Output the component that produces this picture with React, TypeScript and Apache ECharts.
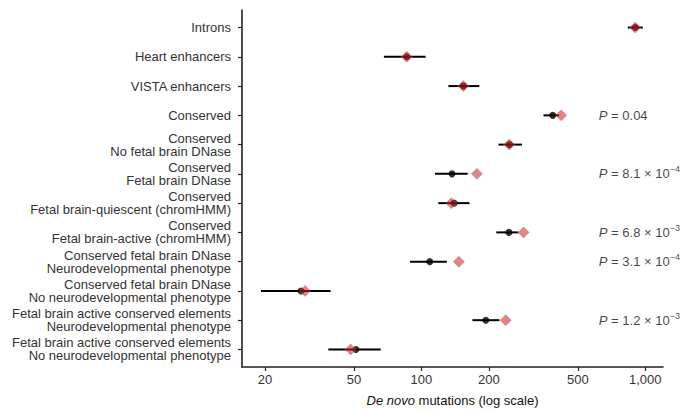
import React, { useEffect, useRef } from 'react';
import * as echarts from 'echarts';

const categories = [
  'Introns',
  'Heart enhancers',
  'VISTA enhancers',
  'Conserved',
  'Conserved\nNo fetal brain DNase',
  'Conserved\nFetal brain DNase',
  'Conserved\nFetal brain-quiescent (chromHMM)',
  'Conserved\nFetal brain-active (chromHMM)',
  'Conserved fetal brain DNase\nNeurodevelopmental phenotype',
  'Conserved fetal brain DNase\nNo neurodevelopmental phenotype',
  'Fetal brain active conserved elements\nNeurodevelopmental phenotype',
  'Fetal brain active conserved elements\nNo neurodevelopmental phenotype',
];

const observed = [902, 86, 154, 386, 247, 137, 140, 246, 109, 29, 194, 51];
const observedLow = [836, 68, 132, 351, 221, 115, 119, 216, 89, 19.2, 169, 38.4];
const observedHigh = [975, 104.5, 181.5, 412, 281, 161, 164, 271, 130, 39.3, 223, 65.8];
const expected = [902, 86, 154, 421, 247, 177, 136, 286, 147, 30.2, 238, 48.3];

const pRows = [3, 5, 7, 8, 10];
const pMantissa = ['0.04', '8.1', '6.8', '3.1', '1.2'];
const pExponent = ['', '−4', '−3', '−4', '−3'];
const pLabelX = 617;

const xTicks = [20, 50, 100, 200, 500, 1000];
const rowTicks = categories.map((_, i) => i);

const FONT = '"Liberation Sans", Arial, Helvetica, sans-serif';
const TXT = '#333333';

export default function App() {
  const ref = useRef<HTMLDivElement>(null);
  useEffect(() => {
    if (!ref.current) return;
    const chart = echarts.init(ref.current, undefined, { renderer: 'svg' });
    const errData = observed.map((_, i) => [observedLow[i], observedHigh[i], i]);
    const obsData = observed.map((v, i) => [v, i]);
    const expData = expected.map((v, i) => [v, i]);
    const pData = pRows.map((r, k) => ({
      value: [pLabelX, r],
      label: {
        formatter: pExponent[k]
          ? `{i|P}{n| = ${pMantissa[k]} × 10}{s|${pExponent[k]}}`
          : `{i|P}{n| = ${pMantissa[k]}}`,
      },
    }));
    chart.setOption({
      animation: false,
      textStyle: { fontFamily: FONT },
      grid: { left: 242, right: 20, top: 10, bottom: 42 },
      xAxis: {
        type: 'log',
        logBase: 10,
        position: 'bottom',
        min: 15.8,
        max: 1200,
        axisLine: { show: true, onZero: false, lineStyle: { color: '#222', width: 1.6 } },
        axisTick: { show: true, customValues: xTicks, length: 4, lineStyle: { color: '#222', width: 1.2 } },
        axisLabel: {
          customValues: xTicks,
          margin: 6,
          fontSize: 13,
          color: TXT,
          fontFamily: FONT,
          formatter: (v: number) => Math.round(v).toLocaleString('en-US'),
        },
        splitLine: { show: false },
        minorTick: { show: false },
        name: '{i|De novo}{n| mutations (log scale)}',
        nameLocation: 'middle',
        nameGap: 27,
        nameTextStyle: {
          rich: {
            i: { fontStyle: 'italic', fontSize: 13, color: '#111', fontFamily: FONT },
            n: { fontSize: 13, color: '#111', fontFamily: FONT },
          },
        },
      },
      yAxis: {
        type: 'value',
        inverse: true,
        min: -0.6,
        max: 11.6,
        axisLine: { show: true, onZero: false, lineStyle: { color: '#222', width: 1.6 } },
        axisTick: { show: true, customValues: rowTicks, length: 4, lineStyle: { color: '#222', width: 1.2 } },
        axisLabel: {
          customValues: rowTicks,
          margin: 11,
          fontSize: 13,
          lineHeight: 13,
          color: TXT,
          fontFamily: FONT,
          align: 'right',
          formatter: (v: number) => categories[Math.round(v)] ?? '',
        },
        splitLine: { show: false },
      },
      series: [
        {
          type: 'custom',
          data: errData,
          encode: { x: [0, 1], y: 2 },
          renderItem: (params: any, api: any) => {
            const a = api.coord([api.value(0), api.value(2)]);
            const b = api.coord([api.value(1), api.value(2)]);
            return {
              type: 'line',
              shape: { x1: a[0], y1: a[1], x2: b[0], y2: b[1] },
              style: { stroke: '#000', lineWidth: 2 },
            };
          },
          z: 1,
        },
        {
          type: 'scatter',
          data: obsData,
          symbol: 'circle',
          symbolSize: 7,
          itemStyle: { color: '#000' },
          z: 2,
        },
        {
          type: 'scatter',
          data: expData,
          symbol: 'diamond',
          symbolSize: 11,
          itemStyle: {
            color: 'rgba(215,25,25,0.68)',
            borderColor: 'rgba(130,130,130,0.7)',
            borderWidth: 0.8,
          },
          z: 3,
        },
        {
          type: 'scatter',
          data: pData,
          symbolSize: 1,
          itemStyle: { color: 'rgba(0,0,0,0)' },
          silent: true,
          label: {
            show: true,
            position: 'right',
            distance: 0,
            rich: {
              i: { fontStyle: 'italic', fontSize: 13, color: '#111', fontFamily: FONT, lineHeight: 18 },
              n: { fontSize: 13, color: '#111', fontFamily: FONT, lineHeight: 18 },
              s: { fontSize: 9, color: '#111', fontFamily: FONT, verticalAlign: 'top', lineHeight: 10 },
            },
          },
          z: 4,
        },
      ],
    });
    return () => chart.dispose();
  }, []);
  return (
    <div
      ref={ref}
      style={{ position: 'absolute', left: 0, top: 0, width: 683, height: 412, background: '#fff' }}
    />
  );
}
